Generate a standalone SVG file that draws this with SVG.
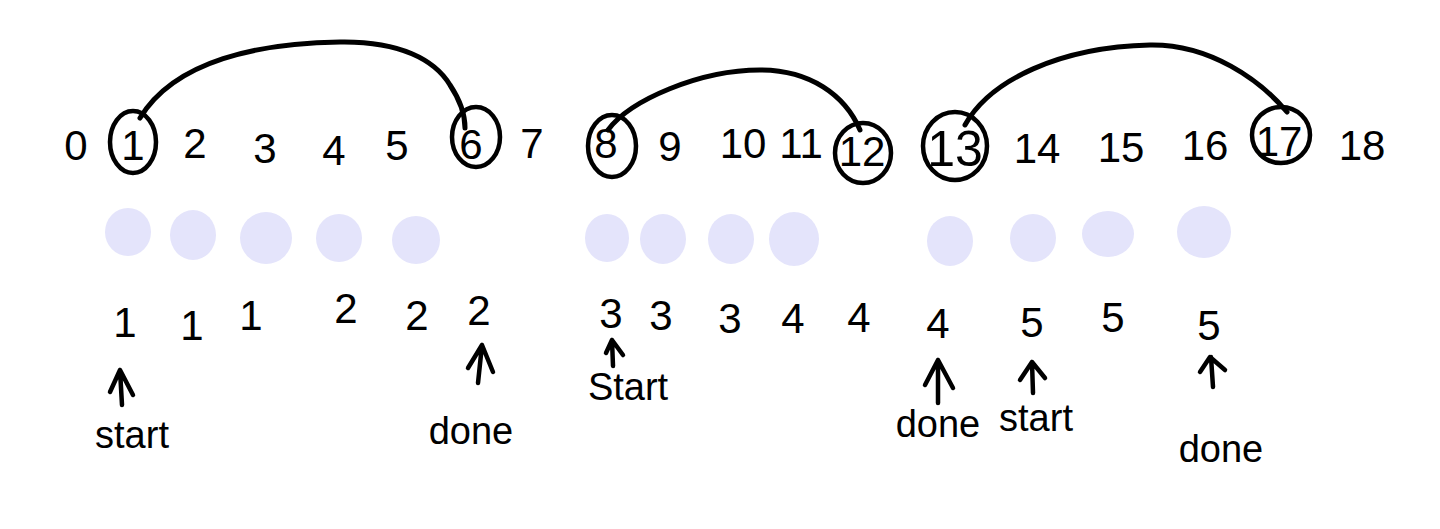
<svg xmlns="http://www.w3.org/2000/svg" width="1440" height="529" viewBox="0 0 1440 529">
<style>
.num{font-family:"Liberation Sans",Arial,sans-serif;font-size:42px;fill:#000;text-anchor:middle}
.big{font-size:50px}
.lbl{font-family:"Liberation Sans",Arial,sans-serif;font-size:38px;fill:#000;text-anchor:middle}
.ring{fill:none;stroke:#000;stroke-width:4.5}
.arc{fill:none;stroke:#000;stroke-width:5;stroke-linecap:round}
.arw{fill:none;stroke:#000;stroke-width:4.5;stroke-linecap:round;stroke-linejoin:round}
.blob{fill:#E4E4FB}
</style>
<rect width="1440" height="529" fill="#fff"/>

<g id="connectors">
<path class="arc" d="M140,118 C175,60 260,43 340,42 C400,41 435,60 450,85 C460,100 465,115 465,128"/>
<path class="arc" d="M608,130 C630,100 700,70 760,70 C810,70 845,95 860,130"/>
<path class="arc" d="M965,125 C990,80 1060,47 1150,45 C1210,44 1260,80 1287,112"/>
</g>

<g id="n0"><text class="num" x="76" y="160" font-size="36">0</text></g>
<g id="n1"><ellipse class="ring" cx="133" cy="142" rx="23" ry="31"/><text class="num" x="133" y="160">1</text></g>
<g id="n2"><text class="num" x="195" y="158">2</text></g>
<g id="n3"><text class="num" x="265" y="163">3</text></g>
<g id="n4"><text class="num" x="334" y="165">4</text></g>
<g id="n5"><text class="num" x="397" y="160">5</text></g>
<g id="n6"><ellipse class="ring" cx="476" cy="137" rx="24" ry="30"/><text class="num" x="471" y="159">6</text></g>
<g id="n7"><text class="num" x="532" y="158">7</text></g>
<g id="n8"><ellipse class="ring" cx="612" cy="146" rx="24" ry="31"/><text class="num" x="606" y="158">8</text></g>
<g id="n9"><text class="num" x="670" y="161">9</text></g>
<g id="n10"><text class="num" x="743" y="158">10</text></g>
<g id="n11"><text class="num" x="801" y="158">11</text></g>
<g id="n12"><ellipse class="ring" cx="863" cy="153" rx="28" ry="30"/><text class="num" x="862" y="166">12</text></g>
<g id="n13"><ellipse class="ring" cx="955" cy="146" rx="32" ry="34"/><text class="num big" x="955" y="166">13</text></g>
<g id="n14"><text class="num" x="1037" y="163">14</text></g>
<g id="n15"><text class="num" x="1121" y="162">15</text></g>
<g id="n16"><text class="num" x="1205" y="160">16</text></g>
<g id="n17"><ellipse class="ring" cx="1281" cy="135" rx="29" ry="28"/><text class="num" x="1279" y="156">17</text></g>
<g id="n18"><text class="num" x="1362" y="160">18</text></g>

<g id="blobs">
<ellipse class="blob" cx="128" cy="232" rx="23" ry="24"/>
<ellipse class="blob" cx="193" cy="235" rx="23" ry="25"/>
<ellipse class="blob" cx="266" cy="238" rx="26" ry="26"/>
<ellipse class="blob" cx="339" cy="238" rx="23" ry="24"/>
<ellipse class="blob" cx="416" cy="240" rx="24" ry="24"/>
<ellipse class="blob" cx="607" cy="238" rx="22" ry="24"/>
<ellipse class="blob" cx="663" cy="239" rx="23" ry="25"/>
<ellipse class="blob" cx="731" cy="239" rx="23" ry="25"/>
<ellipse class="blob" cx="794" cy="239" rx="25" ry="27"/>
<ellipse class="blob" cx="950" cy="241" rx="23" ry="25"/>
<ellipse class="blob" cx="1033" cy="238" rx="23" ry="24"/>
<ellipse class="blob" cx="1108" cy="234" rx="26" ry="23"/>
<ellipse class="blob" cx="1204" cy="232" rx="27" ry="26"/>
</g>

<g id="values">
<text class="num" x="125" y="337">1</text>
<text class="num" x="192" y="340">1</text>
<text class="num" x="251" y="330">1</text>
<text class="num" x="346" y="323">2</text>
<text class="num" x="417" y="330">2</text>
<text class="num" x="479" y="325">2</text>
<text class="num" x="611" y="328">3</text>
<text class="num" x="661" y="330">3</text>
<text class="num" x="730" y="333">3</text>
<text class="num" x="793" y="333">4</text>
<text class="num" x="859" y="332">4</text>
<text class="num" x="938" y="338">4</text>
<text class="num" x="1032" y="337">5</text>
<text class="num" x="1113" y="332">5</text>
<text class="num" x="1209" y="340">5</text>
</g>

<g id="markers">
<path class="arw" d="M122,405 L120,370 M110,392 L120,370 L133,395"/>
<path class="arw" d="M478,383 L482,345 M468,368 L482,345 L493,372"/>
<path class="arw" d="M613,366 L612,340 M606,353 L612,340 L623,355"/>
<path class="arw" d="M938,403 L938,360 M925,385 L938,360 L953,388"/>
<path class="arw" d="M1033,393 L1032,362 M1020,380 L1032,362 L1045,378"/>
<path class="arw" d="M1213,387 L1211,357 M1200,372 L1210,357 L1225,370"/>
</g>

<g id="labels">
<text class="lbl" x="132" y="448">start</text>
<text class="lbl" x="471" y="444">done</text>
<text class="lbl" x="628" y="400">Start</text>
<text class="lbl" x="938" y="437">done</text>
<text class="lbl" x="1036" y="431">start</text>
<text class="lbl" x="1221" y="462" font-size="46">done</text>
</g>
</svg>
